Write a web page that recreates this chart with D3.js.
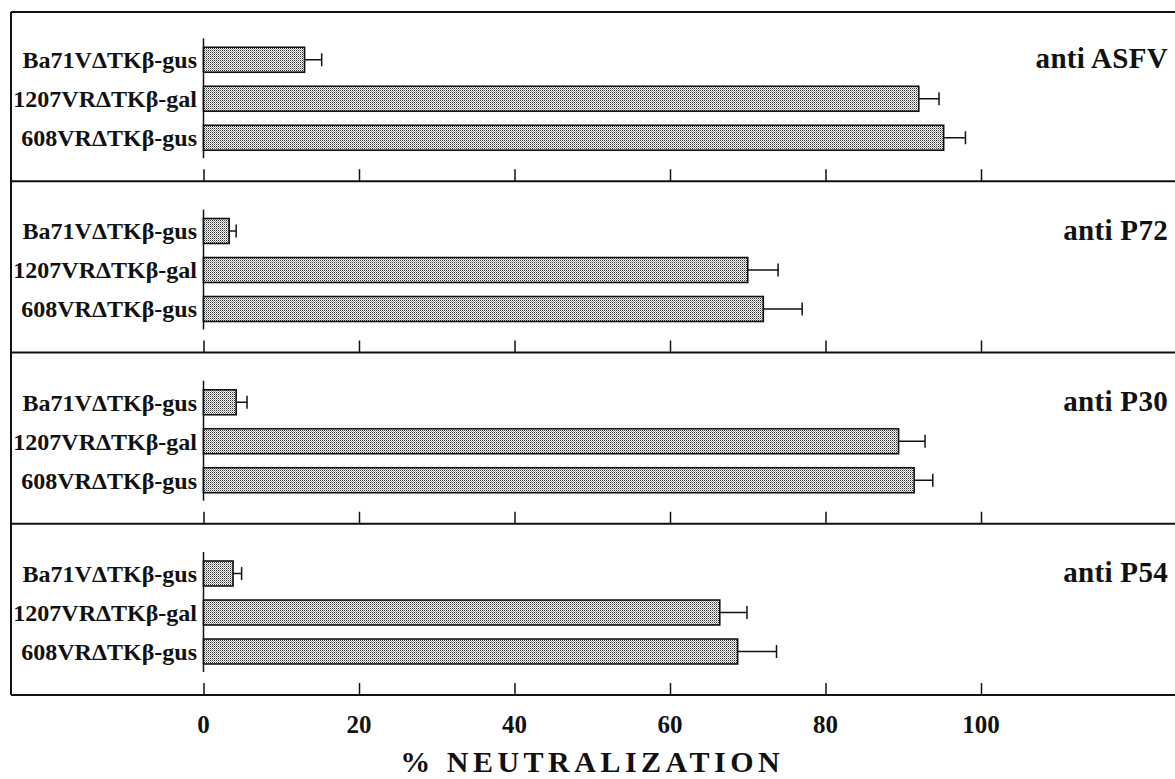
<!DOCTYPE html>
<html>
<head>
<meta charset="utf-8">
<script src="https://cdn.jsdelivr.net/npm/d3@7"></script>
<style>
  body { margin: 0; background: #fff; }
  text { font-family: "Liberation Serif", "Times New Roman", serif; font-weight: bold; fill: #111; }
</style>
</head>
<body>
<script>
var categories = ["Ba71V\u0394TK\u03b2-gus", "1207VR\u0394TK\u03b2-gal", "608VR\u0394TK\u03b2-gus"];
var panelTitles = ["anti ASFV", "anti P72", "anti P30", "anti P54"];

// % neutralization, one array per antiserum (same order as categories)
var antiASFV = [13.0, 92.0, 95.2];
var antiP72 = [3.3, 70.0, 72.0];
var antiP30 = [4.2, 89.4, 91.4];
var antiP54 = [3.8, 66.4, 68.7];

// error bar half-widths
var errASFV = [2.2, 2.6, 2.8];
var errP72 = [0.9, 3.9, 5.0];
var errP30 = [1.4, 3.4, 2.4];
var errP54 = [1.1, 3.5, 5.0];

var tickValues = [0, 20, 40, 60, 80, 100];
var axisTitle = "% NEUTRALIZATION";

var width = 1175, height = 779;

var panels = panelTitles.map(function(t, i) {
  return {
    title: t,
    values: [antiASFV, antiP72, antiP30, antiP54][i],
    errors: [errASFV, errP72, errP30, errP54][i]
  };
});

var svg = d3.select("body").append("svg")
  .attr("width", width)
  .attr("height", height);

// stipple fill like the print
var defs = svg.append("defs");
var pat = defs.append("pattern")
  .attr("id", "stipple")
  .attr("width", 2).attr("height", 2)
  .attr("patternUnits", "userSpaceOnUse");
pat.append("rect").attr("width", 2).attr("height", 2).attr("fill", "#fff");
pat.append("rect").attr("x", 0).attr("y", 0).attr("width", 1).attr("height", 1).attr("fill", "#333");
pat.append("rect").attr("x", 1).attr("y", 1).attr("width", 1).attr("height", 1).attr("fill", "#999");

var x = d3.scaleLinear().domain([0, 100]).range([203.5, 981]);

var panelY = d3.scaleBand()
  .domain(panelTitles)
  .range([10, 695]);

var frameLeft = 11;

// frame: left border and horizontal rules
svg.append("line")
  .attr("x1", frameLeft).attr("x2", frameLeft)
  .attr("y1", 12).attr("y2", 695)
  .attr("stroke", "#111").attr("stroke-width", 2);

svg.append("line")
  .attr("x1", frameLeft).attr("x2", width)
  .attr("y1", 12).attr("y2", 12)
  .attr("stroke", "#111").attr("stroke-width", 2);

panels.forEach(function(p) {
  var bottom = panelY(p.title) + panelY.bandwidth();

  var y = d3.scaleBand()
    .domain(categories)
    .range([bottom - 141, bottom - 24])
    .paddingInner(0.36)
    .paddingOuter(0.18);

  var g = svg.append("g").attr("class", "panel");

  // divider / panel bottom rule
  g.append("line")
    .attr("x1", frameLeft).attr("x2", width)
    .attr("y1", bottom).attr("y2", bottom)
    .attr("stroke", "#111").attr("stroke-width", 2);

  // bottom ticks
  var axis = d3.axisTop(x).tickValues(tickValues).tickSize(12).tickFormat("");
  var ag = g.append("g")
    .attr("transform", "translate(0," + bottom + ")")
    .call(axis);
  ag.select(".domain").remove();
  ag.selectAll(".tick line").attr("stroke", "#111").attr("stroke-width", 1.5);

  // vertical baseline at zero
  g.append("line")
    .attr("x1", x(0)).attr("x2", x(0))
    .attr("y1", y(categories[0]) - 9)
    .attr("y2", y(categories[2]) + y.bandwidth() + 8)
    .attr("stroke", "#111").attr("stroke-width", 1.5);

  var rows = g.selectAll(".row")
    .data(categories.map(function(c, i) { return { cat: c, v: p.values[i], e: p.errors[i] }; }))
    .enter().append("g")
    .attr("class", "row");

  // error bars
  rows.append("line")
    .attr("x1", function(d) { return x(d.v); })
    .attr("x2", function(d) { return x(d.v + d.e); })
    .attr("y1", function(d) { return y(d.cat) + y.bandwidth() / 2; })
    .attr("y2", function(d) { return y(d.cat) + y.bandwidth() / 2; })
    .attr("stroke", "#111").attr("stroke-width", 1.5);

  rows.append("line")
    .attr("x1", function(d) { return x(d.v + d.e); })
    .attr("x2", function(d) { return x(d.v + d.e); })
    .attr("y1", function(d) { return y(d.cat) + y.bandwidth() / 2 - 6.5; })
    .attr("y2", function(d) { return y(d.cat) + y.bandwidth() / 2 + 6.5; })
    .attr("stroke", "#111").attr("stroke-width", 1.5);

  rows.append("rect")
    .attr("x", x(0))
    .attr("y", function(d) { return y(d.cat); })
    .attr("width", function(d) { return x(d.v) - x(0); })
    .attr("height", y.bandwidth())
    .attr("fill", "url(#stipple)")
    .attr("stroke", "#111")
    .attr("stroke-width", 1.6);

  rows.append("text")
    .attr("x", 197)
    .attr("y", function(d) { return y(d.cat) + y.bandwidth() / 2; })
    .attr("dy", "0.35em")
    .attr("text-anchor", "end")
    .style("font-size", "24px")
    .text(function(d) { return d.cat; });

  g.append("text")
    .attr("x", 1168)
    .attr("y", y(categories[0]) + y.bandwidth() / 2)
    .attr("dy", "0.3em")
    .attr("text-anchor", "end")
    .style("font-size", "29px")
    .style("letter-spacing", "0.3px")
    .text(p.title);
});

// tick labels under the last panel
svg.append("g")
  .selectAll("text")
  .data(tickValues)
  .enter().append("text")
  .attr("x", function(d) { return x(d); })
  .attr("y", 733)
  .attr("text-anchor", "middle")
  .style("font-size", "25px")
  .text(function(d) { return d; });

svg.append("text")
  .attr("x", (x(0) + x(100)) / 2)
  .attr("y", 772)
  .attr("text-anchor", "middle")
  .style("font-size", "30px")
  .style("letter-spacing", "4.5px")
  .text(axisTitle);
</script>
</body>
</html>
